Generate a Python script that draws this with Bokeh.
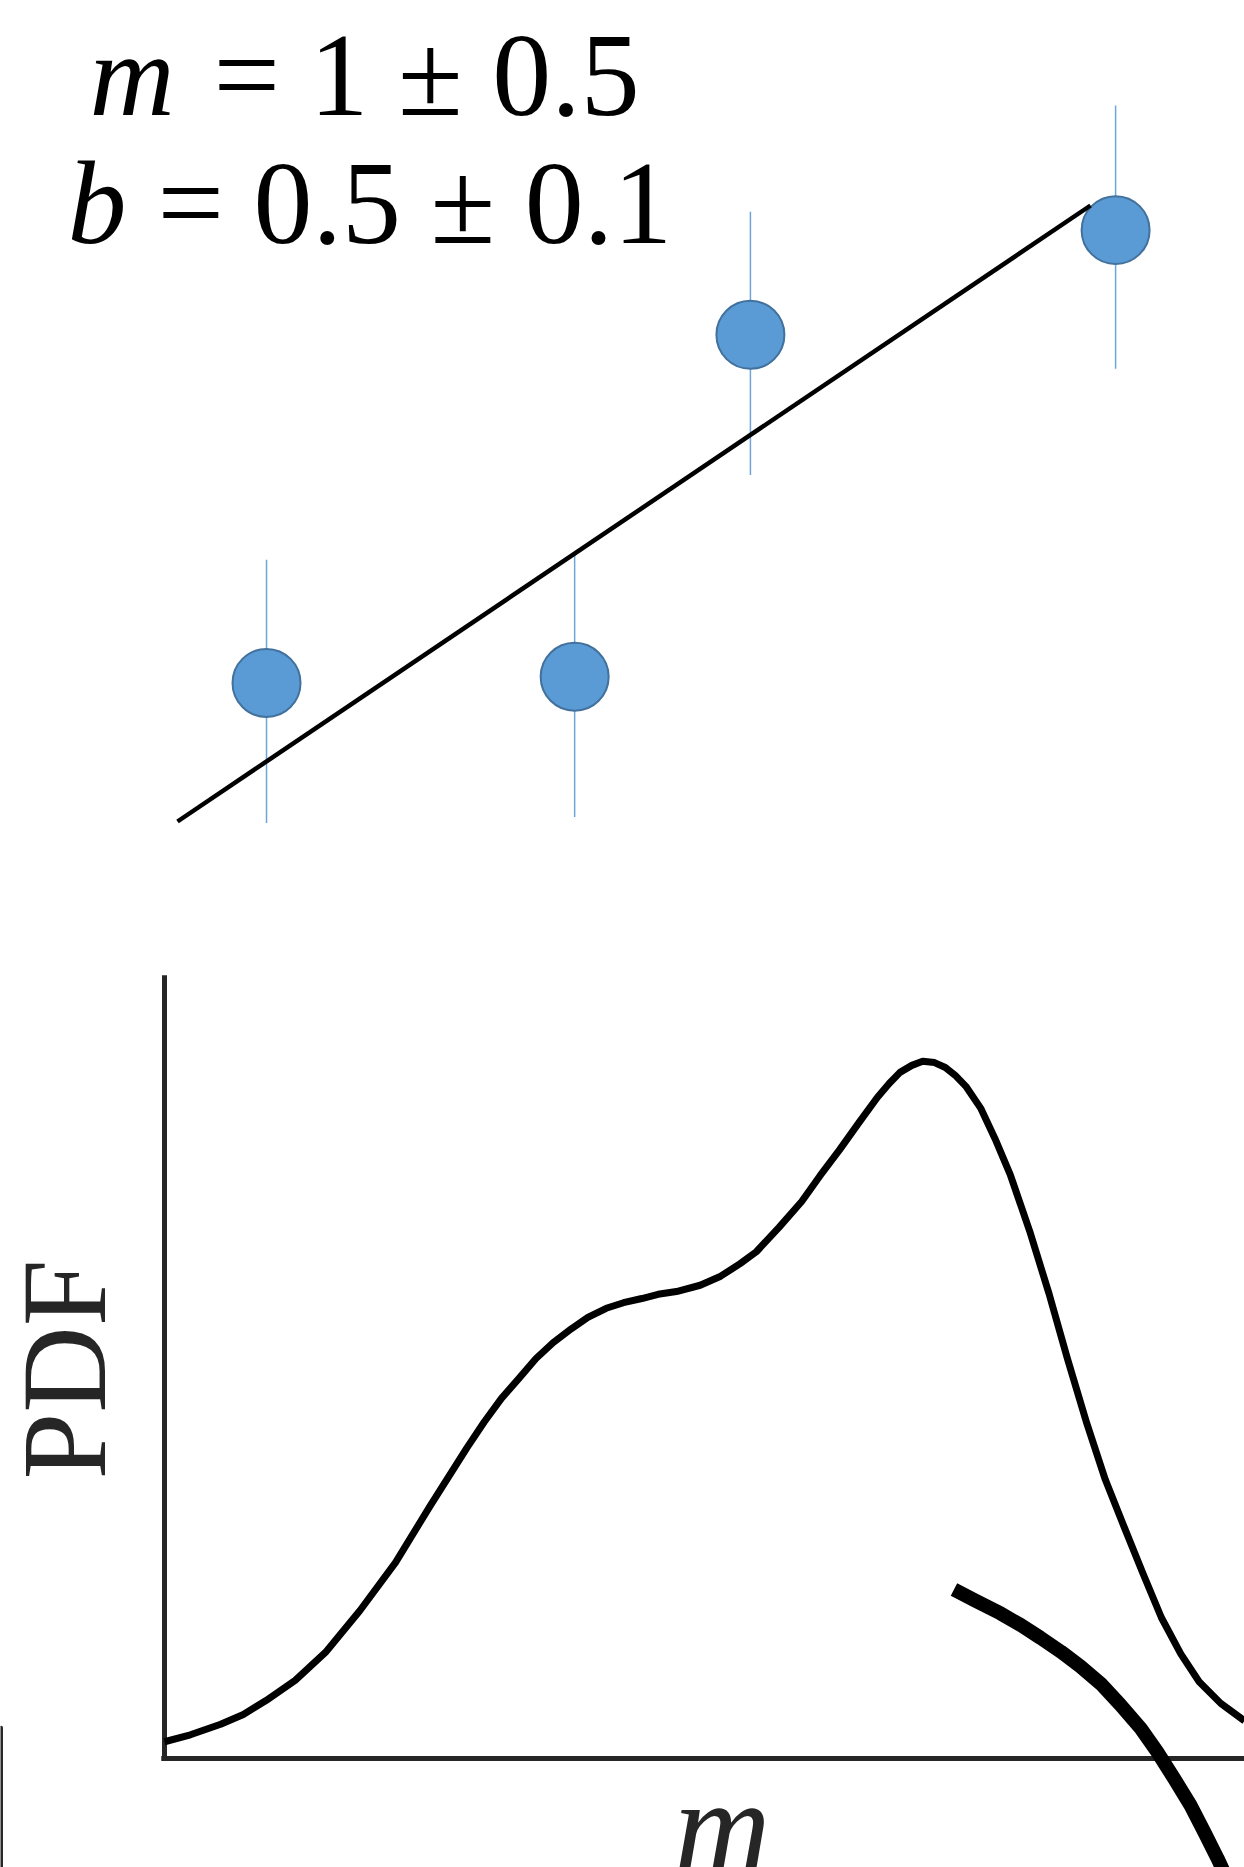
import math
from bokeh.plotting import figure
from bokeh.models import Range1d, Label
from bokeh.embed import file_html
from bokeh.resources import INLINE

# ---------------- data ----------------
# upper panel: four measurements with error bars and the fitted straight line
x_obs = [0.39, 1.74, 2.51, 4.11]
y_obs = [1.40, 1.44, 3.66, 4.34]
y_lo = [0.49, 0.53, 2.75, 3.44]
y_hi = [2.20, 2.23, 4.46, 5.15]
fit_x = [0.0, 4.0]
fit_y = [0.5, 4.5]
fit_text_vars = ["m", "b"]
fit_text_vals = ["= 1 \u00b1 0.5", "= 0.5 \u00b1 0.1"]

# lower panel: posterior PDF of m
m_grid = [0.000, 0.024, 0.052, 0.073, 0.094, 0.121, 0.149, 0.181, 0.214, 0.246,
          0.280, 0.296, 0.312, 0.329, 0.344, 0.360, 0.377, 0.392, 0.409, 0.425,
          0.442, 0.457, 0.474, 0.496, 0.515, 0.533, 0.548, 0.569, 0.590, 0.607,
          0.625, 0.643, 0.660, 0.671, 0.681, 0.692, 0.702, 0.713, 0.723, 0.732,
          0.742, 0.756, 0.769, 0.783, 0.801, 0.819, 0.836, 0.854, 0.871, 0.889,
          0.906, 0.923, 0.941, 0.958, 0.978, 1.000]
pdf_vals = [0.024, 0.034, 0.049, 0.063, 0.083, 0.112, 0.152, 0.212, 0.281, 0.362,
            0.445, 0.482, 0.516, 0.546, 0.573, 0.596, 0.616, 0.632, 0.645, 0.653,
            0.659, 0.665, 0.669, 0.678, 0.691, 0.709, 0.726, 0.761, 0.798, 0.835,
            0.872, 0.911, 0.947, 0.967, 0.983, 0.993, 0.999, 0.997, 0.990, 0.979,
            0.963, 0.931, 0.888, 0.837, 0.756, 0.666, 0.573, 0.480, 0.400, 0.330,
            0.265, 0.202, 0.150, 0.110, 0.079, 0.054]
# thick arc (pointer) crossing the m axis
arc_m = [0.731, 0.751, 0.774, 0.793, 0.811, 0.830, 0.848, 0.867, 0.885, 0.904,
         0.919, 0.935, 0.950, 0.963, 0.975, 0.987]
arc_pdf = [0.242, 0.226, 0.208, 0.191, 0.173, 0.153, 0.132, 0.107, 0.077, 0.043,
           0.010, -0.029, -0.067, -0.106, -0.143, -0.183]
# axis extents of the PDF panel
yaxis_m = [0.0, 0.0]
yaxis_pdf = [0.0, 1.122]
xaxis_m = [-0.003, 1.2]
xaxis_pdf = [0.0, 0.0]
# edge of a neighbouring panel's axis at the far left
edge_m = [-0.1514, -0.1514]
edge_pdf = [0.044, -0.2]
x_label = "m"
y_label = "PDF"

# ---------------- layout (page pixels) ----------------
W, H = 1244, 1867
L, R, T, B = 0, W, 0, H
# upper panel mapping
UX0, UY0, UXU, UYU = 177.0, 898.0, 228.25, 154.0
# lower panel mapping
LX0, LY0, LXU, LYU = 164.0, 1758.0, 1080.0, 698.0
# text anchor correction (label baseline sits ~0.36 em below anchor)
BASE_K = 0.36

p = figure(width=W, height=H, output_backend="svg", toolbar_location=None,
           x_axis_type=None, y_axis_type=None, min_border=0,
           x_range=Range1d((L - UX0) / UXU, (R - UX0) / UXU),
           y_range=Range1d((UY0 - B) / UYU, (UY0 - T) / UYU))
p.extra_x_ranges = {"m": Range1d((L - LX0) / LXU, (R - LX0) / LXU)}
p.extra_y_ranges = {"pdf": Range1d((LY0 - B) / LYU, (LY0 - T) / LYU)}
p.outline_line_color = None
p.grid.visible = False
p.background_fill_color = "white"
p.border_fill_color = "white"

# upper panel
p.segment(x0=x_obs, y0=y_lo, x1=x_obs, y1=y_hi, line_color="#6FA5DA", line_width=1.5)
p.scatter(x_obs, y_obs, size=68, fill_color="#5B9BD5", line_color="#41719C", line_width=2)
p.line(fit_x, fit_y, line_color="black", line_width=4.5)

def up_x(px):
    return (px - UX0) / UXU

def up_y(py):
    return (UY0 - py) / UYU

font = "Liberation Serif"
FS = 118
off = BASE_K * FS
p.add_layout(Label(x=up_x(89), y=up_y(117 - off), text=fit_text_vars[0], text_font=font,
                   text_font_style="italic", text_font_size=f"{FS}px", text_color="black",
                   text_align="left", text_baseline="alphabetic"))
p.add_layout(Label(x=up_x(213), y=up_y(117 - off), text=fit_text_vals[0], text_font=font,
                   text_font_size=f"{FS}px", text_color="black",
                   text_align="left", text_baseline="alphabetic"))
p.add_layout(Label(x=up_x(67), y=up_y(245 - off), text=fit_text_vars[1], text_font=font,
                   text_font_style="italic", text_font_size=f"{FS}px", text_color="black",
                   text_align="left", text_baseline="alphabetic"))
p.add_layout(Label(x=up_x(157), y=up_y(245 - off), text=fit_text_vals[1], text_font=font,
                   text_font_size=f"{FS}px", text_color="black",
                   text_align="left", text_baseline="alphabetic"))

# lower panel
kw = dict(x_range_name="m", y_range_name="pdf")
p.line(yaxis_m, yaxis_pdf, line_color="#262626", line_width=5, **kw)
p.line(xaxis_m, xaxis_pdf, line_color="#262626", line_width=5, **kw)
p.line(edge_m, edge_pdf, line_color="#262626", line_width=4, line_cap="round", **kw)
p.line(m_grid, pdf_vals, line_color="black", line_width=7, line_join="round", **kw)
p.line(arc_m, arc_pdf, line_color="black", line_width=14, line_join="round", **kw)

def lo_x(px):
    return (px - LX0) / LXU

def lo_y(py):
    return (LY0 - py) / LYU

LFS = 120
loff = BASE_K * LFS
p.add_layout(Label(x=lo_x(107 - loff), y=lo_y(1369), text=y_label, text_font=font,
                   text_font_size=f"{LFS}px", text_color="#262626", angle=math.pi / 2,
                   text_align="center", text_baseline="alphabetic", **kw))
MFS = 134
p.add_layout(Label(x=lo_x(722), y=lo_y(1874 - BASE_K * MFS), text=x_label, text_font=font,
                   text_font_style="italic", text_font_size=f"{MFS}px", text_color="#262626",
                   text_align="center", text_baseline="alphabetic", **kw))

open("out.html", "w").write(file_html(p, INLINE))
